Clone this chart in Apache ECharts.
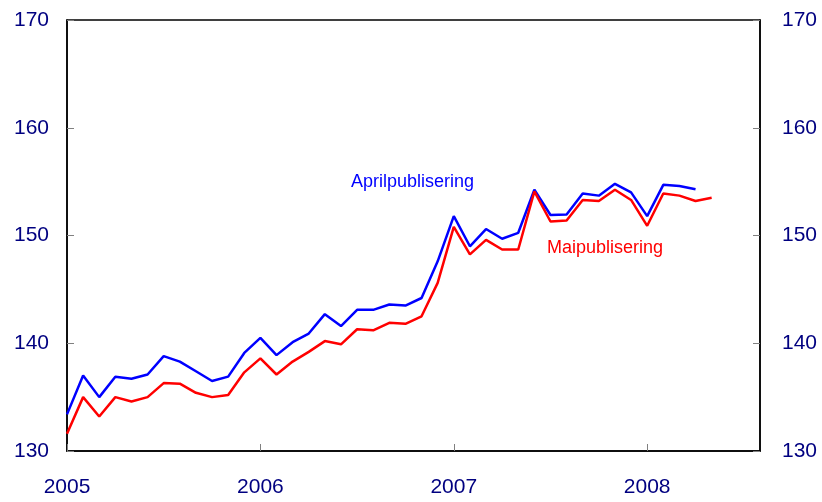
<!DOCTYPE html>
<html><head><meta charset="utf-8">
<script src="https://cdn.jsdelivr.net/npm/echarts@6/dist/echarts.min.js"></script>
<style>html,body{margin:0;padding:0;background:#fff}#c{width:822px;height:502px}</style>
</head><body><div id="c"></div>
<script>
// Months Jan 2005 .. Aug 2008
const years = [2005, 2006, 2007, 2008];
const months = [];
for (const y of years) for (let m = 1; m <= 12; m++) { if (y === 2008 && m > 8) break; months.push(y + '-' + String(m).padStart(2, '0')); }

const aprilPub = [133.4,137.0,135.0,136.9,136.7,137.1,138.8,138.3,137.4,136.5,136.9,139.1,
  140.5,138.9,140.1,140.9,142.7,141.6,143.1,143.1,143.6,143.5,144.2,147.6,
  151.8,149.0,150.6,149.7,150.25,154.25,151.9,151.95,153.9,153.7,154.8,154.0,
  151.8,154.7,154.6,154.3];
const maiPub = [131.6,135.0,133.2,135.0,134.6,135.0,136.3,136.25,135.4,135.0,135.2,137.3,
  138.6,137.1,138.3,139.2,140.2,139.9,141.3,141.2,141.9,141.8,142.5,145.6,
  150.8,148.25,149.6,148.7,148.7,154.1,151.3,151.4,153.3,153.2,154.25,153.3,
  150.9,153.9,153.7,153.2,153.5];
const yTicks = [130, 140, 150, 160, 170];

const chart = echarts.init(document.getElementById('c'));
const labelColor = '#000080';
const font = 'Liberation Sans, Arial, sans-serif';
const yAxisCommon = {
  type: 'value', min: yTicks[0], max: yTicks[yTicks.length - 1], interval: 10,
  axisLine: { show: true, lineStyle: { color: '#000', width: 1.5 } },
  axisTick: { show: true, inside: true, length: 7, lineStyle: { color: '#808080', width: 1 } },
  splitLine: { show: false },
  axisLabel: { color: labelColor, fontSize: 21, fontFamily: font, margin: 18 }
};
chart.setOption({
  animation: false,
  grid: { left: 67, right: 62, top: 20, bottom: 51, show: true, borderColor: '#000', borderWidth: 1.5 },
  xAxis: {
    type: 'category', data: months, boundaryGap: false,
    axisLine: { lineStyle: { color: '#000', width: 1.5 } },
    axisTick: { inside: true, length: 7, lineStyle: { color: '#808080' },
      interval: (i, v) => v.endsWith('-01') },
    axisLabel: { color: labelColor, fontSize: 21, fontFamily: font, margin: 26,
      interval: (i, v) => v.endsWith('-01'), formatter: v => v.slice(0, 4) },
    splitLine: { show: false }
  },
  yAxis: [
    Object.assign({}, yAxisCommon, { position: 'left' }),
    Object.assign({}, yAxisCommon, { position: 'right', axisLabel: Object.assign({}, yAxisCommon.axisLabel, { margin: 22 }) })
  ],
  series: [
    { name: 'Aprilpublisering', type: 'line', data: aprilPub, showSymbol: false, yAxisIndex: 0,
      lineStyle: { color: '#0000FF', width: 2.5 }, itemStyle: { color: '#0000FF' } },
    { name: 'Maipublisering', type: 'line', data: maiPub, showSymbol: false, yAxisIndex: 0,
      lineStyle: { color: '#FF0000', width: 2.5 }, itemStyle: { color: '#FF0000' } }
  ],
  graphic: [
    { type: 'text', left: 351, top: 173, style: { text: 'Aprilpublisering', fill: '#0000FF', font: '18px ' + font } },
    { type: 'text', left: 547, top: 239, style: { text: 'Maipublisering', fill: '#FF0000', font: '18px ' + font } }
  ]
});
</script></body></html>
